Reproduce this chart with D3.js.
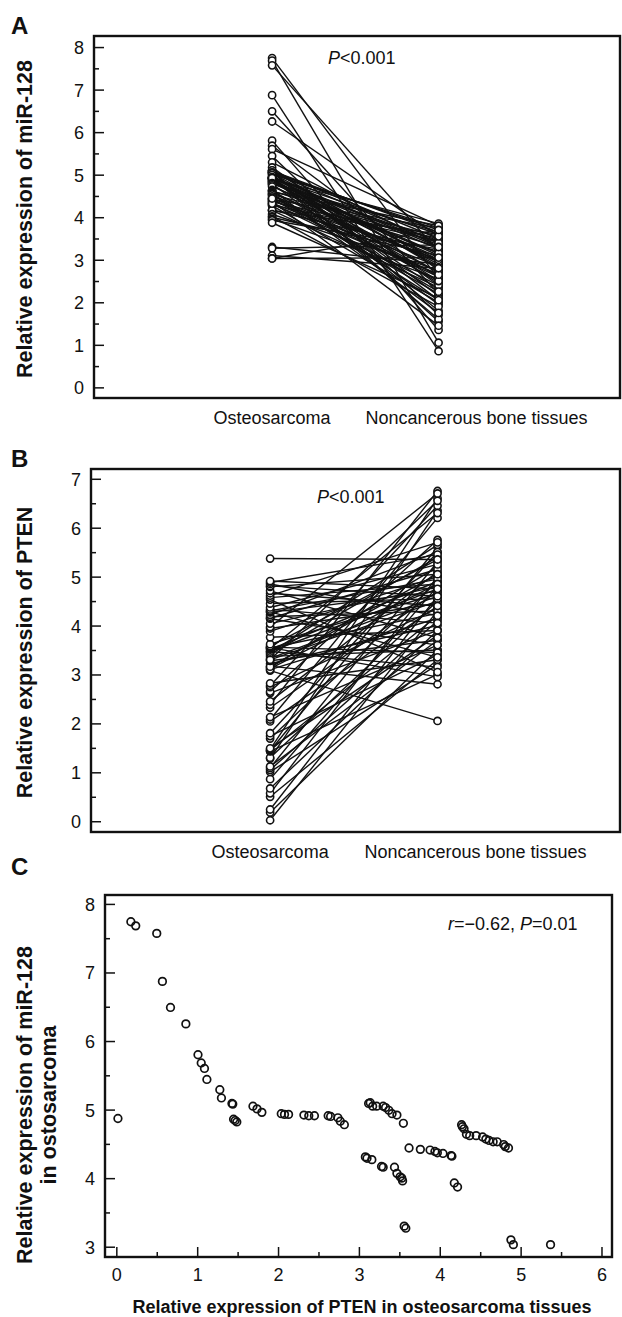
<!DOCTYPE html>
<html lang="en">
<head>
  <meta charset="UTF-8">
  <title>miR-128 / PTEN</title>
  <script src="https://cdnjs.cloudflare.com/ajax/libs/d3/7.8.5/d3.min.js"></script>
  <style>
    * { margin: 0; padding: 0; }
    html, body { background: #fff; }
    svg { display: block; font-family: "Liberation Sans", Arial, sans-serif; }
    .tick text { font-size: 18px; fill: #111; }
    .tick line { stroke: #111; stroke-width: 1.5; }
  </style>
</head>
<body>
<div id="chart"></div>
<script>
  // groups (panels A and B)
  const categories = ['Osteosarcoma', 'Noncancerous bone tissues']

  // per-patient values, same order in every array
  // PTEN in osteosarcoma (panel B left, panel C x)
  const ptenTumor = [0.02, 0.18, 0.24, 0.50, 0.57, 0.67, 0.86, 1.01, 1.05, 1.09,
    1.12, 1.28, 1.30, 1.43, 1.44, 1.45, 1.47, 1.49, 1.69, 1.74,
    1.80, 2.04, 2.08, 2.13, 2.32, 2.38, 2.45, 2.62, 2.65, 2.74,
    2.77, 2.82, 3.12, 3.14, 3.17, 3.22, 3.30, 3.33, 3.37, 3.41,
    3.47, 3.55, 3.08, 3.10, 3.16, 3.28, 3.30, 3.44, 3.47, 3.51,
    3.53, 3.54, 3.56, 3.58, 3.62, 3.76, 3.88, 3.94, 3.97, 4.04,
    4.14, 4.15, 4.18, 4.22, 4.27, 4.28, 4.30, 4.33, 4.37, 4.45,
    4.53, 4.57, 4.61, 4.66, 4.71, 4.79, 4.81, 4.85, 4.88, 4.91, 5.37]
  // miR-128 in osteosarcoma (panel A left, panel C y)
  const mirTumor = [4.87, 7.74, 7.68, 7.57, 6.87, 6.49, 6.25, 5.80, 5.68, 5.60,
    5.44, 5.29, 5.17, 5.09, 5.08, 4.86, 4.84, 4.82, 5.05, 5.01,
    4.96, 4.94, 4.93, 4.93, 4.92, 4.91, 4.91, 4.91, 4.90, 4.88,
    4.83, 4.78, 5.09, 5.10, 5.05, 5.05, 5.05, 5.03, 4.99, 4.94,
    4.92, 4.80, 4.31, 4.29, 4.27, 4.17, 4.16, 4.16, 4.07, 4.02,
    4.00, 3.96, 3.30, 3.27, 4.44, 4.42, 4.41, 4.39, 4.37, 4.36,
    4.33, 4.32, 3.93, 3.87, 4.78, 4.75, 4.72, 4.64, 4.62, 4.62,
    4.60, 4.57, 4.55, 4.53, 4.53, 4.49, 4.46, 4.44, 3.10, 3.03, 3.03]
  // miR-128 in noncancerous bone tissues (panel A right)
  const mirNormal = [2.90, 2.55, 1.05, 3.20, 0.85, 2.20, 3.55, 1.35, 2.75, 3.80,
    1.70, 3.30, 2.40, 3.65, 1.55, 3.10, 2.60, 3.45, 2.05, 3.75,
    2.85, 3.35, 1.80, 3.00, 3.60, 2.30, 3.25, 2.70, 3.85, 2.45,
    3.15, 1.95, 3.50, 2.80, 3.40, 2.15, 3.70, 2.95, 2.50, 3.30,
    1.60, 3.05, 2.65, 3.45, 2.00, 3.20, 2.35, 3.60, 2.75, 1.90,
    3.10, 2.55, 2.90, 3.35, 2.20, 3.75, 2.60, 3.00, 1.45, 3.50,
    2.85, 2.40, 3.25, 2.10, 3.65, 2.70, 3.15, 1.75, 3.40, 2.50,
    3.80, 2.95, 2.25, 3.55, 2.05, 3.30, 2.65, 3.00, 2.80, 3.05, 3.70]
  // PTEN in noncancerous bone tissues (panel B right)
  const ptenNormal = [4.30, 3.50, 4.60, 3.30, 5.00, 3.90, 4.80, 3.20, 4.10, 5.30,
    3.70, 6.35, 4.50, 3.00, 5.60, 4.20, 6.60, 3.80, 4.90, 3.40,
    5.50, 4.40, 6.20, 3.60, 4.70, 6.75, 5.10, 3.90, 5.75, 4.35,
    6.45, 3.30, 4.85, 5.20, 2.80, 4.00, 6.55, 4.60, 3.50, 5.40,
    4.75, 2.95, 2.05, 4.15, 5.05, 3.70, 4.50, 5.65, 3.15, 4.90,
    6.30, 4.25, 3.45, 5.35, 4.65, 3.90, 5.00, 4.45, 6.70, 4.80,
    3.60, 5.15, 4.30, 5.50, 4.70, 3.35, 4.95, 4.05, 5.25, 4.55,
    3.05, 4.85, 5.70, 4.40, 3.75, 5.05, 4.60, 4.20, 5.45, 4.75, 5.35]

  const ticksA = [0, 1, 2, 3, 4, 5, 6, 7, 8]
  const ticksB = [0, 1, 2, 3, 4, 5, 6, 7]
  const ticksCy = [3, 4, 5, 6, 7, 8]
  const ticksCx = [0, 1, 2, 3, 4, 5, 6]

  const W = 622, H = 1317
  const svg = d3.select('#chart').append('svg').attr('width', W).attr('height', H)

  const halves = ticks => d3.range(ticks[0] + 0.5, ticks[ticks.length - 1], 1)

  function frame(x0, y0, x1, y1) {
    svg.append('rect')
      .attr('x', x0).attr('y', y0)
      .attr('width', x1 - x0).attr('height', y1 - y0)
      .attr('fill', 'none').attr('stroke', '#111').attr('stroke-width', 2.4)
  }

  function yAxis(y, x0, ticks) {
    svg.append('g').attr('transform', `translate(${x0},0)`)
      .call(d3.axisLeft(y).tickValues(ticks).tickSize(-10).tickPadding(10).tickFormat(d3.format('d')))
      .call(g => g.select('.domain').remove())
    svg.append('g').attr('transform', `translate(${x0},0)`)
      .call(d3.axisLeft(y).tickValues(halves(ticks)).tickSize(-5).tickFormat(''))
      .call(g => g.select('.domain').remove())
    svg.selectAll('.tick text').attr('dy', '0.36em')
  }

  function panelLetter(t, x, y) {
    svg.append('text').attr('x', x).attr('y', y)
      .attr('font-size', 24).attr('font-weight', 'bold').attr('fill', '#111').text(t)
  }

  function yTitle(lines, x, cy) {
    lines.forEach((t, i) => {
      svg.append('text')
        .attr('transform', `translate(${x + i * 24},${cy}) rotate(-90)`)
        .attr('text-anchor', 'middle')
        .attr('font-size', 21.5).attr('font-weight', 'bold').attr('fill', '#111')
        .text(t)
    })
  }

  function pText(x, y, parts) {
    const t = svg.append('text').attr('x', x).attr('y', y).attr('font-size', 18).attr('fill', '#111')
    parts.forEach(p => t.append('tspan').attr('font-style', p[1] ? 'italic' : 'normal').text(p[0]))
  }

  // paired panel (A / B)
  function paired(box, yDomain, ticks, left, right, title, letter, pText_y, pText_x) {
    const x = d3.scaleLinear().domain([-1.07, 2.09]).range([box.x0, box.x1])
    const y = d3.scaleLinear().domain(yDomain).range([box.y1, box.y0])
    frame(box.x0, box.y0, box.x1, box.y1)
    yAxis(y, box.x0, ticks)

    const pairs = left.map((v, i) => [v, right[i]])
    svg.append('g').selectAll('line').data(pairs).join('line')
      .attr('x1', x(0)).attr('x2', x(1))
      .attr('y1', d => y(d[0])).attr('y2', d => y(d[1]))
      .attr('stroke', '#111').attr('stroke-width', 1.4)

    const pts = pairs.flatMap(d => [[0, d[0]], [1, d[1]]])
    svg.append('g').selectAll('circle').data(pts).join('circle')
      .attr('cx', d => x(d[0])).attr('cy', d => y(d[1])).attr('r', 3.6)
      .attr('fill', '#fff').attr('stroke', '#111').attr('stroke-width', 1.6)

    const labelShift = [0, 38]
    svg.append('g').selectAll('text').data(categories).join('text')
      .attr('x', (d, i) => x(i) + labelShift[i])
      .attr('y', box.y1 + 26)
      .attr('text-anchor', 'middle').attr('font-size', 18).attr('fill', '#111')
      .text(d => d)

    pText(pText_x, pText_y, [['P', true], ['<0.001', false]])
    yTitle([title], 32, (box.y0 + box.y1) / 2 + 2)
    panelLetter(letter, 11, box.y0 - 2)
  }

  paired({x0: 94, x1: 620, y0: 36, y1: 398}, [-0.25, 8.26], ticksA,
    mirTumor, mirNormal, 'Relative expression of miR-128', 'A', 64, 328)
  paired({x0: 91, x1: 620, y0: 469, y1: 832}, [-0.22, 7.2], ticksB,
    ptenTumor, ptenNormal, 'Relative expression of PTEN', 'B', 503, 317)

  // panel C scatter
  const boxC = {x0: 105, x1: 612, y0: 895, y1: 1257}
  const xC = d3.scaleLinear().domain([-0.14, 6.13]).range([boxC.x0, boxC.x1])
  const yC = d3.scaleLinear().domain([2.85, 8.13]).range([boxC.y1, boxC.y0])
  frame(boxC.x0, boxC.y0, boxC.x1, boxC.y1)
  yAxis(yC, boxC.x0, ticksCy)
  svg.append('g').attr('transform', `translate(0,${boxC.y1})`)
    .call(d3.axisBottom(xC).tickValues(ticksCx).tickSize(-10).tickPadding(11).tickFormat(d3.format('d')))
    .call(g => g.select('.domain').remove())
  svg.append('g').attr('transform', `translate(0,${boxC.y1})`)
    .call(d3.axisBottom(xC).tickValues(halves(ticksCx)).tickSize(-5).tickFormat(''))
    .call(g => g.select('.domain').remove())

  svg.append('g').selectAll('circle').data(ptenTumor.map((v, i) => [v, mirTumor[i]])).join('circle')
    .attr('cx', d => xC(d[0])).attr('cy', d => yC(d[1])).attr('r', 3.8)
    .attr('fill', 'none').attr('stroke', '#111').attr('stroke-width', 1.7)

  pText(448, 930, [['r', true], ['=\u22120.62, ', false], ['P', true], ['=0.01', false]])
  yTitle(['Relative expression of miR-128', 'in ostosarcoma'], 32, 1105)
  svg.append('text').attr('x', 362).attr('y', 1313).attr('text-anchor', 'middle')
    .attr('font-size', 18).attr('font-weight', 'bold').attr('fill', '#111')
    .text('Relative expression of PTEN in osteosarcoma tissues')
  panelLetter('C', 11, 875)
</script>
</body>
</html>
